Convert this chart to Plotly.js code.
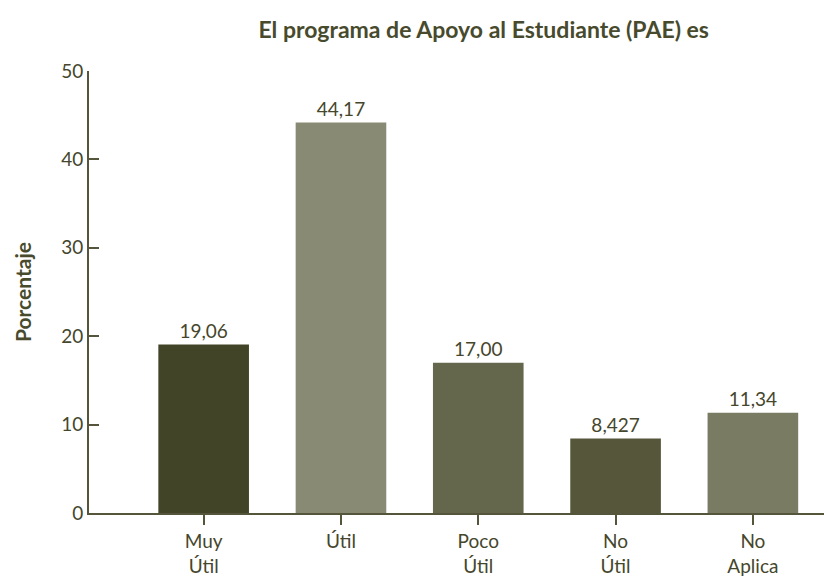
<!DOCTYPE html>
<html>
<head>
<meta charset="utf-8">
<script src="https://cdn.plot.ly/plotly-3.0.1.min.js"></script>
<style>html,body{margin:0;padding:0;background:#fff;}#chart{width:824px;height:579px;}</style>
</head>
<body>
<div id="chart"></div>
<script>
const categories = ["Muy<br>Útil", "Útil", "Poco<br>Útil", "No<br>Útil", "No<br>Aplica"];
const values = [19.06, 44.17, 17.00, 8.427, 11.34];
const valueLabels = ["19,06", "44,17", "17,00", "8,427", "11,34"];
const barColors = ["#424428", "#898a74", "#65674c", "#55563a", "#7a7b63"];
const yTicks = [0, 10, 20, 30, 40, 50];

const fontFam = "Lato, 'Open Sans', sans-serif";
const textColor = "#45462c";
const axisColor = "#54553a";

const trace = {
  type: "bar",
  x: categories,
  y: values,
  text: valueLabels,
  textposition: "outside",
  cliponaxis: false,
  textfont: {family: fontFam, size: 19, color: textColor},
  marker: {color: barColors, line: {width: 0}},
  hoverinfo: "none"
};

const layout = {
  width: 824, height: 579,
  margin: {l: 89, r: 0, t: 71, b: 66},
  paper_bgcolor: "#fff", plot_bgcolor: "#fff",
  bargap: 0.34,
  showlegend: false,
  font: {family: fontFam, color: textColor},
  title: {
    text: "<b>El programa de Apoyo al Estudiante (PAE) es</b>",
    font: {family: fontFam, size: 23, color: "#474a2c"},
    x: 0.537, xref: "paper", xanchor: "center",
    y: 0.948, yref: "container", yanchor: "middle"
  },
  xaxis: {
    range: [-0.835, 4.518],
    showline: true, linecolor: axisColor, linewidth: 2,
    ticks: "outside", ticklen: 10, tickcolor: axisColor, tickwidth: 2,
    tickfont: {family: fontFam, size: 19, color: textColor},
    showgrid: false, zeroline: false, fixedrange: true
  },
  yaxis: {
    range: [0, 50],
    tickvals: yTicks,
    showline: true, linecolor: axisColor, linewidth: 2,
    ticks: "inside", ticklen: 10, tickcolor: axisColor, tickwidth: 2,
    tickfont: {family: fontFam, size: 19, color: textColor},
    showgrid: false, zeroline: false, fixedrange: true,
    title: {text: "<b>Porcentaje</b>", font: {family: fontFam, size: 21, color: "#474a2c"}, standoff: 24}
  }
};

Plotly.newPlot("chart", [trace], layout, {displayModeBar: false, staticPlot: true});
</script>
</body>
</html>
